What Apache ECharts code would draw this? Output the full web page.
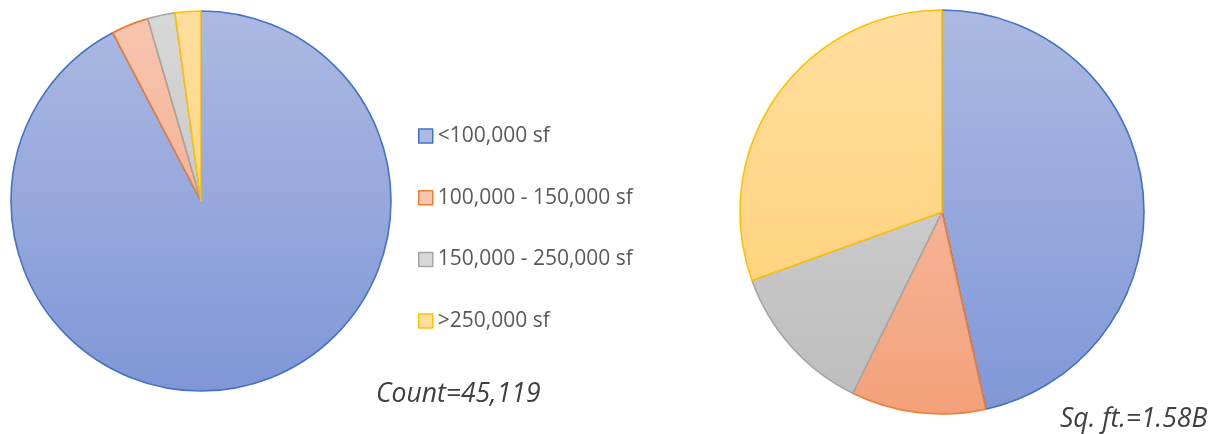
<!DOCTYPE html>
<html>
<head>
<meta charset="utf-8">
<script src="https://cdn.jsdelivr.net/npm/echarts@6/dist/echarts.min.js"></script>
<style>
html,body{margin:0;padding:0;background:#fff;}
#chart{width:1219px;height:434px;}
</style>
</head>
<body>
<div id="chart"></div>
<script>
// ---- data ----
const categories = ['<100,000 sf', '100,000 - 150,000 sf', '150,000 - 250,000 sf', '>250,000 sf'];
const countValues = [41650, 1430, 1050, 989];          // buildings, total 45,119
const sqftValues = [735, 170, 193, 482];               // million sq ft, total 1.58B
const countLabel = 'Count=45,119';
const sqftLabel = 'Sq. ft.=1.58B';

// ---- styles ----
const fillTop = ['#ACB9E2', '#F7C6B1', '#D8D8D8', '#FFDE9E'];
const fillBottom = ['#8097D7', '#F4A17A', '#BCBCBC', '#FFCF72'];
const borders = ['#4472C4', '#ED7D31', '#A5A5A5', '#FFC000'];

function grad(i, cy, r) {
  return new echarts.graphic.LinearGradient(0, cy - r, 0, cy + r, [
    {offset: 0, color: fillTop[i]},
    {offset: 1, color: fillBottom[i]}
  ], true);
}

function makeData(values, cy, r) {
  return categories.map((name, i) => ({
    name: name,
    value: values[i],
    itemStyle: {color: grad(i, cy, r), borderColor: borders[i], borderWidth: 1.6}
  }));
}

const L = {cx: 201, cy: 201, r: 190};
const R = {cx: 942, cy: 212, r: 202};

const chart = echarts.init(document.getElementById('chart'), null, {renderer: 'canvas'});
chart.setOption({
  animation: false,
  backgroundColor: '#ffffff',
  legend: {
    data: categories,
    orient: 'vertical',
    left: 418,
    top: 125,
    padding: 0,
    icon: 'rect',
    itemWidth: 14,
    itemHeight: 14,
    itemGap: 39.7,
    selectedMode: false,
    itemStyle: {borderWidth: 1.5},
    textStyle: {fontFamily: 'Open Sans', fontSize: 21, color: '#595959', lineHeight: 22, padding: [0,0,0,0]}
  },
  series: [
    {
      type: 'pie',
      center: [L.cx, L.cy],
      radius: [0, L.r],
      startAngle: 90,
      clockwise: true,
      label: {show: false},
      labelLine: {show: false},
      emphasis: {disabled: true},
      data: makeData(countValues, L.cy, L.r)
    },
    {
      type: 'pie',
      center: [R.cx, R.cy],
      radius: [0, R.r],
      startAngle: 90,
      clockwise: true,
      label: {show: false},
      labelLine: {show: false},
      emphasis: {disabled: true},
      data: makeData(sqftValues, R.cy, R.r)
    }
  ],
  graphic: [
    {
      type: 'text',
      left: 376,
      top: 381,
      style: {text: countLabel, fontFamily: 'Open Sans', fontStyle: 'italic', fontSize: 26.5, fill: '#404040'}
    },
    {
      type: 'text',
      left: 1060,
      top: 406,
      style: {text: sqftLabel, fontFamily: 'Open Sans', fontStyle: 'italic', fontSize: 26.5, fill: '#404040'}
    }
  ]
});
</script>
</body>
</html>
